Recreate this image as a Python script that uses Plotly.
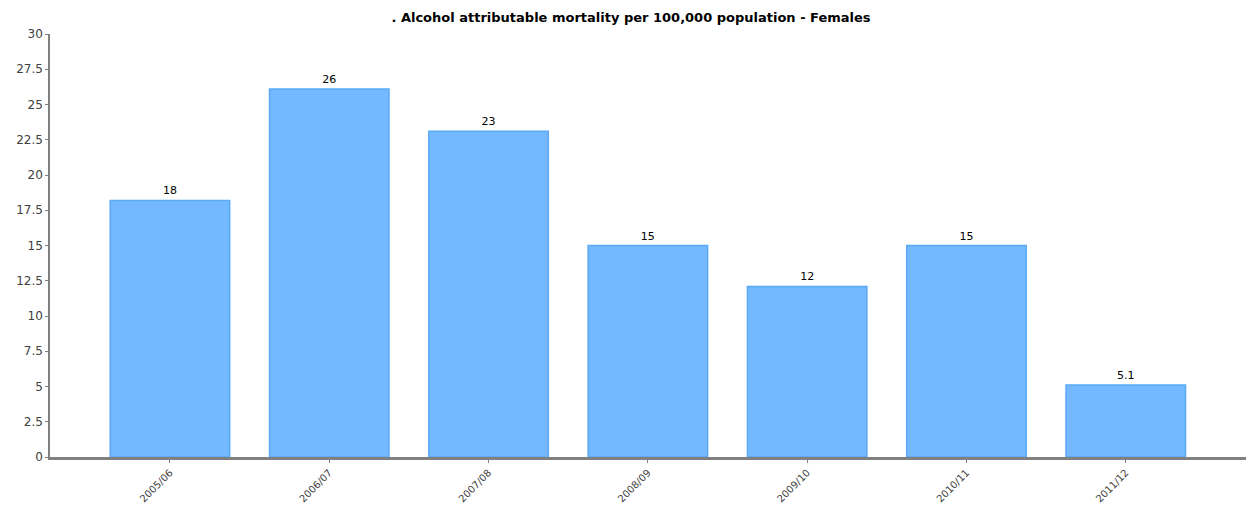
import plotly.graph_objects as go

categories = ["2005/06", "2006/07", "2007/08", "2008/09", "2009/10", "2010/11", "2011/12"]
values = [18.2, 26.1, 23.1, 15.0, 12.1, 15.0, 5.1]
labels = ["18", "26", "23", "15", "12", "15", "5.1"]
y_ticks = [0, 2.5, 5, 7.5, 10, 12.5, 15, 17.5, 20, 22.5, 25, 27.5, 30]
y_tick_text = ["0", "2.5", "5", "7.5", "10", "12.5", "15", "17.5", "20", "22.5", "25", "27.5", "30"]

fig = go.Figure(go.Bar(
    x=categories, y=values, text=labels, textposition="outside",
    textfont=dict(family="DejaVu Sans", size=11, color="#000000"),
    marker=dict(color="#74b9ff", line=dict(color="#5aa9f5", width=1.5)),
    width=0.75, cliponaxis=False,
))

fig.update_layout(
    width=1246, height=498,
    margin=dict(l=42, r=7, t=26, b=49),
    paper_bgcolor="white", plot_bgcolor="white",
    title=dict(text="<b>. Alcohol attributable mortality per 100,000 population - Females</b>",
               x=0.5, xanchor="center", y=0.982, yanchor="middle",
               font=dict(family="DejaVu Sans", size=13, color="#000000")),
    showlegend=False,
    bargap=0.25,
)
fig.update_xaxes(
    range=[-0.753, 6.761], showline=True, linecolor="#808080", linewidth=3,
    ticks="outside", ticklen=3, tickcolor="#808080", tickangle=-45,
    tickfont=dict(family="DejaVu Sans", size=10, color="#404040"),
    showgrid=False, automargin=False,
)
fig.update_yaxes(
    range=[0, 30], tickvals=y_ticks, ticktext=y_tick_text,
    showline=True, linecolor="#808080", linewidth=1.5,
    ticks="outside", ticklen=3, tickcolor="#808080",
    tickfont=dict(family="DejaVu Sans", size=12, color="#404040"),
    showgrid=False, zeroline=False, automargin=False,
)

fig.write_html("out.html")
